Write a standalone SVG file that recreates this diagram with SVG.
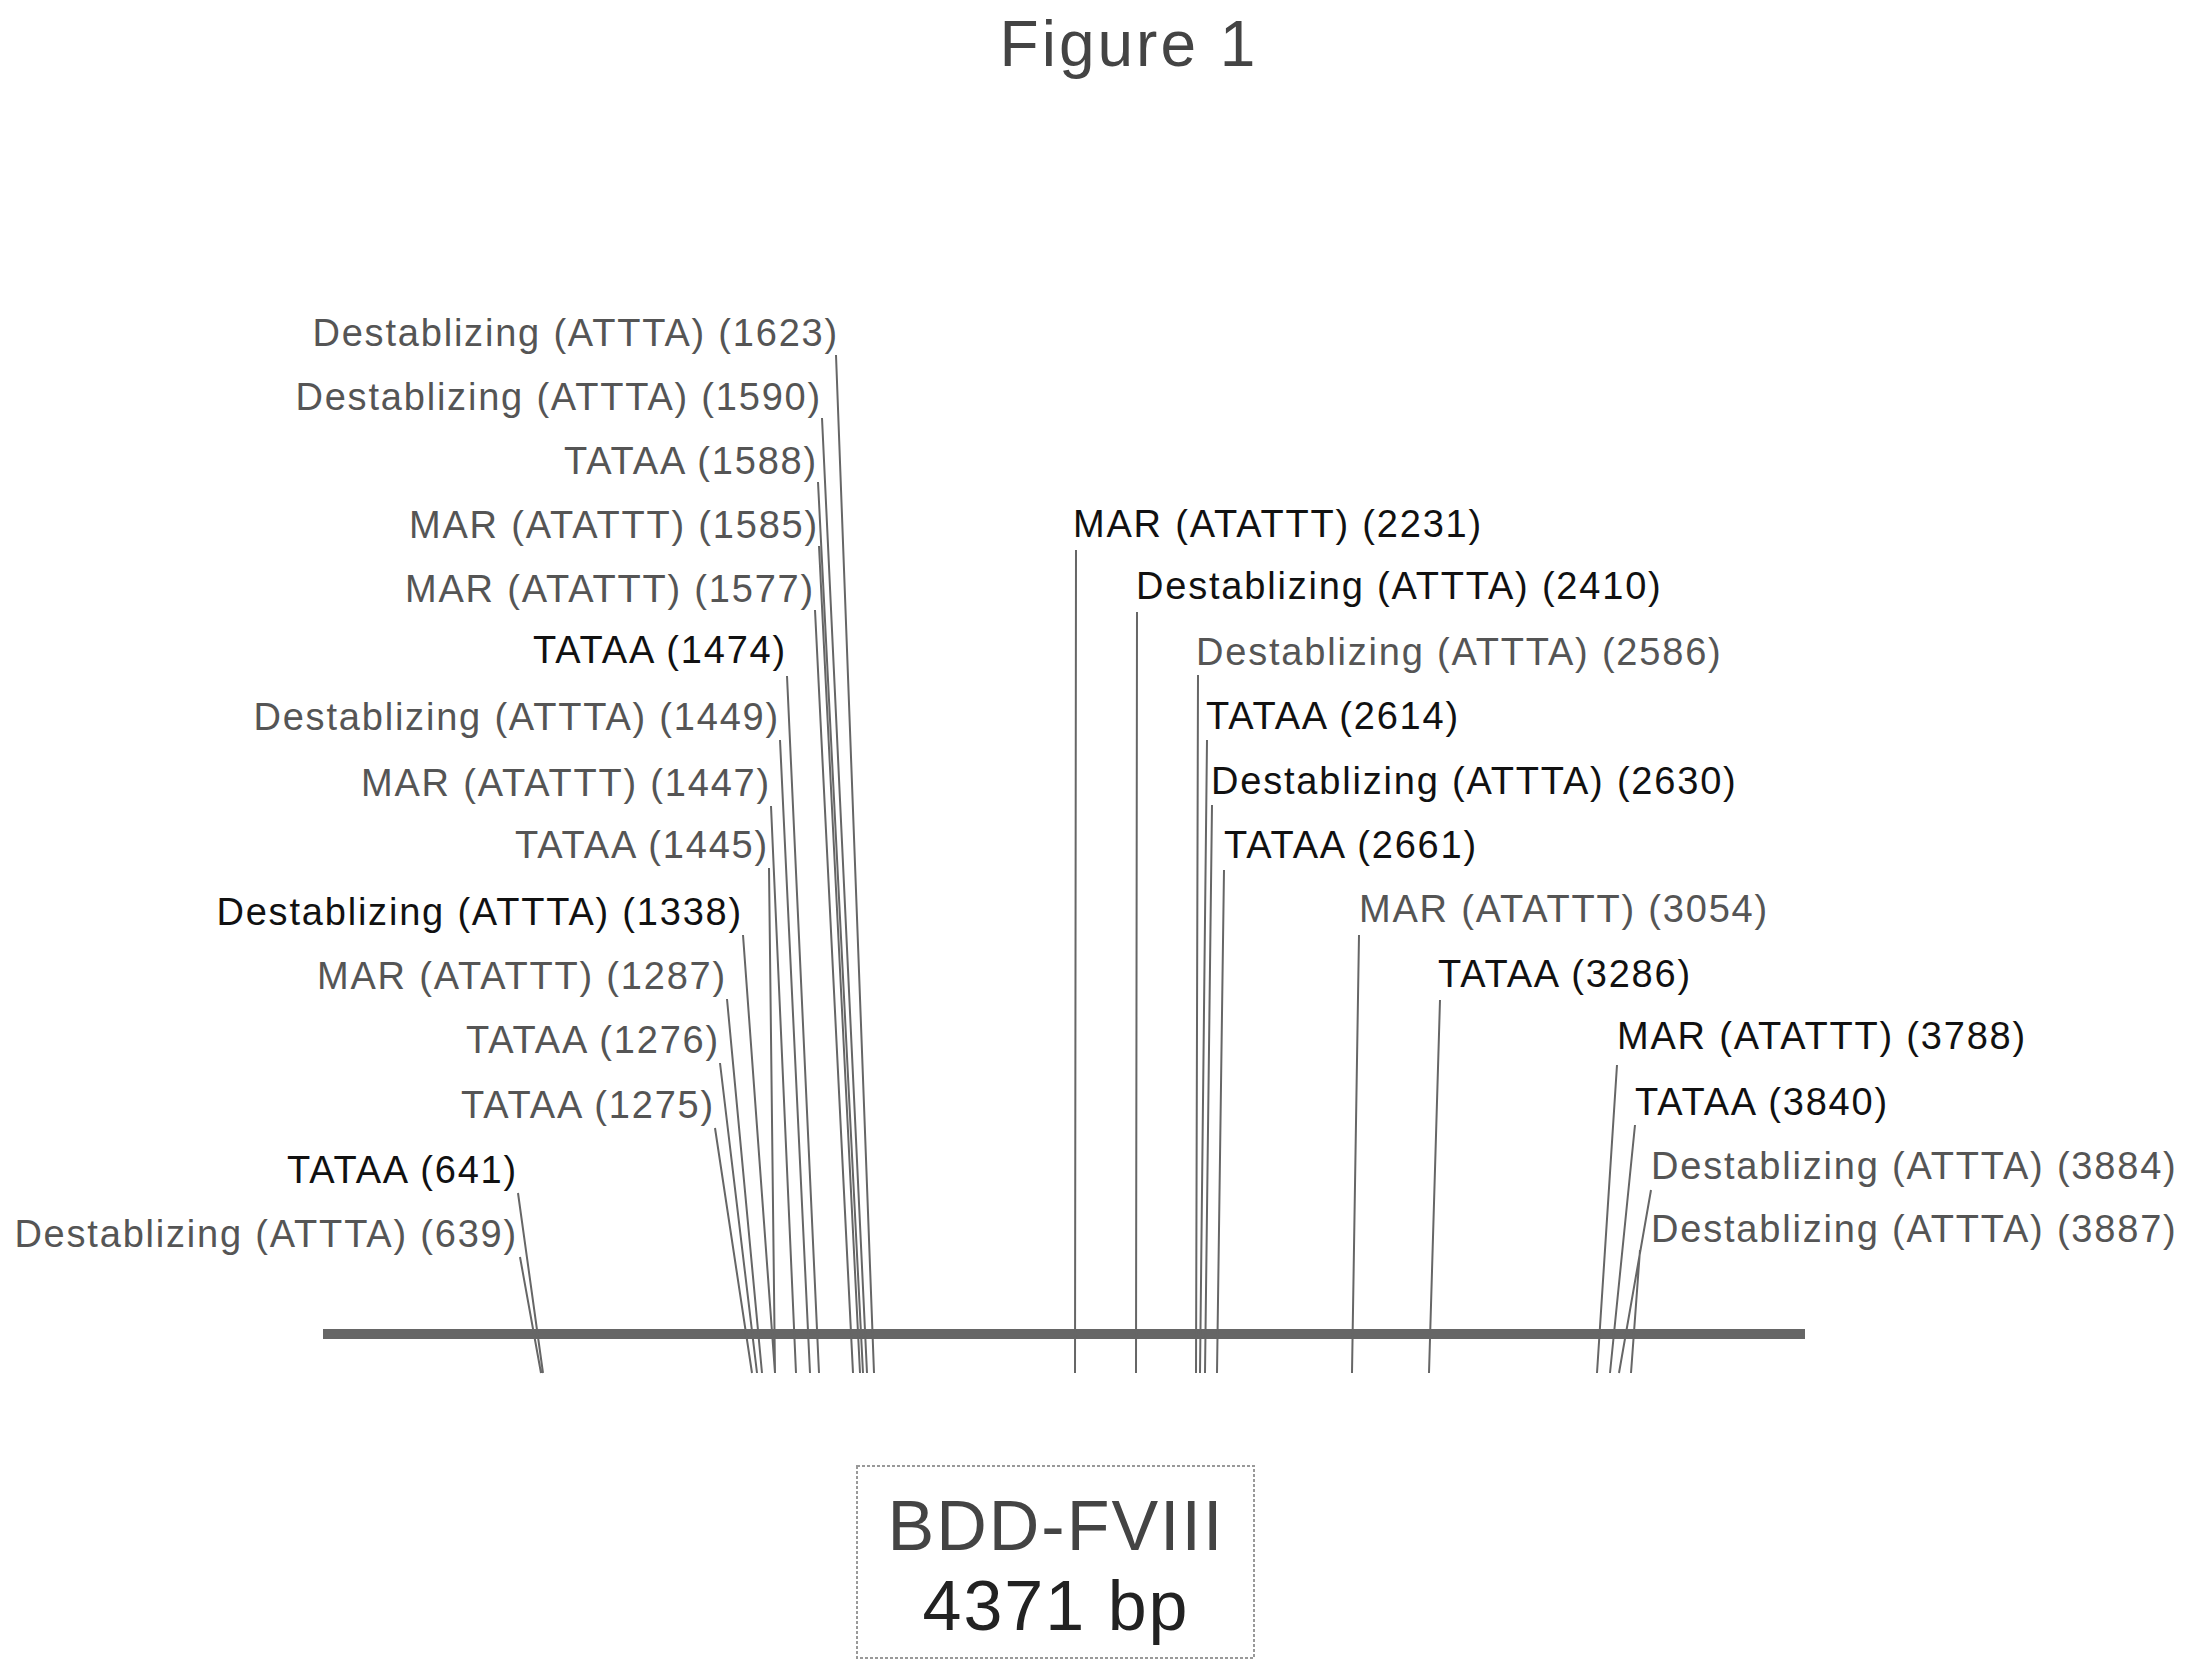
<svg xmlns="http://www.w3.org/2000/svg" width="2185" height="1678" viewBox="0 0 2185 1678">
<style>
text{font-family:"Liberation Sans",Arial,sans-serif;font-size:38px;letter-spacing:1.8px}
.l{text-anchor:end}
.g{fill:#555}
.b{fill:#111}
.ln{stroke:#666;stroke-width:2;fill:none}
</style>
<rect width="2185" height="1678" fill="#fff"/>
<text x="1129" y="66" text-anchor="middle" style="font-size:64px;letter-spacing:3px" fill="#444">Figure 1</text>
<g id="connectors">
<rect x="323" y="1329" width="1482" height="10" fill="#666"/>
<path class="ln" d="M836 355L874 1373M822 418L867 1373M818 482L863 1373M819 546L860 1373M815 610L853 1373M787 676L819 1373M780 740L810 1373M771 806L796 1373M769 868L775 1373M743 935L775 1373M727 999L762 1373M720 1063L757 1373M715 1128L752 1373M518 1193L543 1373M520 1257L541 1373"/>
<path class="ln" d="M1076 550L1075 1373M1137 612L1136 1373M1198 675L1196 1373M1207 740L1200 1373M1212 805L1205 1373M1224 870L1217 1373M1359 935L1352 1373M1440 1000L1429 1373M1617 1065L1597 1373M1635 1125L1610 1373M1651 1190L1619 1373M1640 1250L1631 1373"/>
</g>
<g id="labels-left">
<text class="l g" x="839" y="346">Destablizing (ATTTA) (1623)</text>
<text class="l g" x="822" y="410">Destablizing (ATTTA) (1590)</text>
<text class="l g" x="818" y="474">TATAA (1588)</text>
<text class="l g" x="819" y="538">MAR (ATATTT) (1585)</text>
<text class="l g" x="815" y="602">MAR (ATATTT) (1577)</text>
<text class="l b" x="787" y="663">TATAA (1474)</text>
<text class="l g" x="780" y="730">Destablizing (ATTTA) (1449)</text>
<text class="l g" x="771" y="796">MAR (ATATTT) (1447)</text>
<text class="l g" x="769" y="858">TATAA (1445)</text>
<text class="l b" x="743" y="925">Destablizing (ATTTA) (1338)</text>
<text class="l g" x="727" y="989">MAR (ATATTT) (1287)</text>
<text class="l g" x="720" y="1053">TATAA (1276)</text>
<text class="l g" x="715" y="1118">TATAA (1275)</text>
<text class="l b" x="518" y="1183">TATAA (641)</text>
<text class="l g" x="518" y="1247">Destablizing (ATTTA) (639)</text>
</g>
<g id="labels-right">
<text class="b" x="1073" y="537">MAR (ATATTT) (2231)</text>
<text class="b" x="1136" y="599">Destablizing (ATTTA) (2410)</text>
<text class="g" x="1196" y="665">Destablizing (ATTTA) (2586)</text>
<text class="b" x="1206" y="729">TATAA (2614)</text>
<text class="b" x="1211" y="794">Destablizing (ATTTA) (2630)</text>
<text class="b" x="1224" y="858">TATAA (2661)</text>
<text class="g" x="1359" y="922">MAR (ATATTT) (3054)</text>
<text class="b" x="1438" y="987">TATAA (3286)</text>
<text class="b" x="1617" y="1049">MAR (ATATTT) (3788)</text>
<text class="b" x="1635" y="1115">TATAA (3840)</text>
<text class="g" x="1651" y="1179">Destablizing (ATTTA) (3884)</text>
<text class="g" x="1651" y="1242">Destablizing (ATTTA) (3887)</text>
</g>
<g id="title-box">
<rect x="857" y="1466" width="397" height="192" fill="none" stroke="#999" stroke-width="2" stroke-dasharray="3 2"/>
<text x="1056" y="1550" text-anchor="middle" style="font-size:70px;letter-spacing:2px" fill="#444">BDD-FVIII</text>
<text x="1056" y="1630" text-anchor="middle" style="font-size:70px;letter-spacing:2px" fill="#222">4371 bp</text>
</g>
</svg>
